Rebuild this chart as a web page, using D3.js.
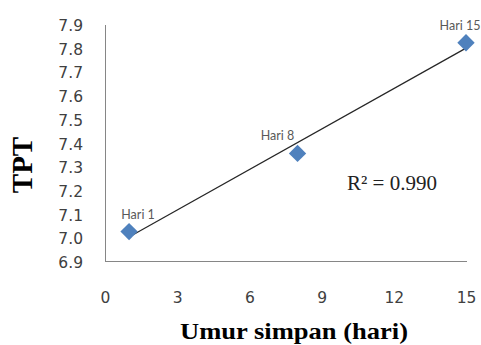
<!DOCTYPE html>
<html>
<head>
<meta charset="utf-8">
<script src="https://cdn.jsdelivr.net/npm/d3@7"></script>
<style>
  html, body { margin: 0; padding: 0; background: #fff; }
  svg { display: block; }
</style>
</head>
<body>
<svg id="chart" width="481" height="345"></svg>
<script>
// ---- data ----
const days = [1, 8, 15];
const tptValues = [7.024, 7.354, 7.821];
const pointLabels = ["Hari 1", "Hari 8", "Hari 15"];
const xTicks = [0, 3, 6, 9, 12, 15];
const yTicks = [6.9, 7.0, 7.1, 7.2, 7.3, 7.4, 7.5, 7.6, 7.7, 7.8, 7.9];
const rSquaredText = "R² = 0.990";
const xTitle = "Umur simpan (hari)";
const yTitle = "TPT";

// label offsets (layout, not data)
const labelDx = [9, -20, -6];

const svg = d3.select("#chart");
const x = d3.scaleLinear().domain([0, 15]).range([105, 466]);
const y = d3.scaleLinear().domain([6.9, 7.9]).range([261, 24]);

// axes lines (no ticks)
const xAxis = d3.axisBottom(x).tickValues(xTicks).tickSize(0).tickPadding(0).tickFormat(d3.format("d"));
const yAxis = d3.axisLeft(y).tickValues(yTicks).tickSize(0).tickPadding(0).tickFormat(d3.format(".1f"));

const gx = svg.append("g").attr("transform", `translate(0,${y(6.9)})`).call(xAxis);
gx.select(".domain").attr("stroke", "#868686").attr("stroke-width", 1);
gx.selectAll("text")
  .attr("y", 42).attr("dy", 0)
  .attr("font-family", "DejaVu Sans").attr("font-size", 15.5).attr("fill", "#404040");

const gy = svg.append("g").attr("transform", `translate(${x(0)},0)`).call(yAxis);
gy.select(".domain").attr("stroke", "#868686").attr("stroke-width", 1);
gy.selectAll("text")
  .attr("x", -22).attr("dy", "0.42em")
  .attr("font-family", "DejaVu Sans").attr("font-size", 15.5).attr("fill", "#404040");
svg.selectAll(".domain").attr("shape-rendering", "crispEdges");

// linear trend line from least squares
const mx = d3.mean(days), my = d3.mean(tptValues);
const slope = d3.sum(days, (d, i) => (d - mx) * (tptValues[i] - my)) / d3.sum(days, d => (d - mx) ** 2);
const intercept = my - slope * mx;
const xMin = d3.min(days), xMax = d3.max(days);
svg.append("line")
  .attr("x1", x(xMin)).attr("y1", y(intercept + slope * xMin))
  .attr("x2", x(xMax)).attr("y2", y(intercept + slope * xMax))
  .attr("stroke", "#262626").attr("stroke-width", 1.2);

// diamonds
const pts = days.map((d, i) => ({ x: d, y: tptValues[i], label: pointLabels[i], dx: labelDx[i] }));
svg.selectAll("path.pt").data(pts).join("path")
  .attr("class", "pt")
  .attr("d", d3.symbol().type(d3.symbolSquare).size(150))
  .attr("transform", d => `translate(${x(d.x)},${y(d.y)}) rotate(45)`)
  .attr("fill", "#4F81BD");

// data labels
svg.selectAll("text.lbl").data(pts).join("text")
  .attr("class", "lbl")
  .attr("x", d => x(d.x) + d.dx)
  .attr("y", d => y(d.y) - 13)
  .attr("text-anchor", "middle")
  .attr("font-family", "Lato").attr("font-size", 12.5).attr("fill", "#595959")
  .text(d => d.label);

// R squared
svg.append("text")
  .attr("x", 347).attr("y", 190)
  .attr("font-family", "Liberation Serif").attr("font-size", 21).attr("fill", "#222")
  .text(rSquaredText);

// axis titles
svg.append("text")
  .attr("x", 294).attr("y", 339)
  .attr("text-anchor", "middle")
  .attr("font-family", "Liberation Serif").attr("font-weight", "bold").attr("font-size", 24).attr("fill", "#000")
  .attr("textLength", 228).attr("lengthAdjust", "spacingAndGlyphs")
  .text(xTitle);

svg.append("text")
  .attr("transform", "translate(32,165) rotate(-90)")
  .attr("text-anchor", "middle")
  .attr("font-family", "Liberation Serif").attr("font-weight", "bold").attr("font-size", 29).attr("fill", "#000")
  .text(yTitle);
</script>
</body>
</html>
